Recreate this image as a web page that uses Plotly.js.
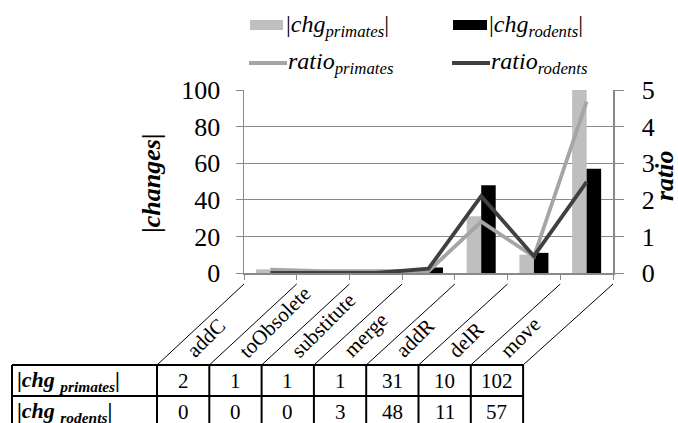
<!DOCTYPE html>
<html>
<head>
<meta charset="utf-8">
<script src="https://cdn.plot.ly/plotly-3.0.1.min.js"></script>
<style>html,body{margin:0;padding:0;background:#fff;}#chart{width:678px;height:423px;}</style>
</head>
<body>
<div id="chart"></div>
<script>
// ---- data ----
const categories = ['addC', 'toObsolete', 'substitute', 'merge', 'addR', 'delR', 'move'];
const chgPrimates = [2, 1, 1, 1, 31, 10, 102];
const chgRodents = [0, 0, 0, 3, 48, 11, 57];
const ratioPrimates = [0.09, 0.05, 0.05, 0.05, 1.40, 0.45, 4.68];
const ratioRodents = [0, 0, 0, 0.12, 2.10, 0.46, 2.49];
const leftTicks = [0, 20, 40, 60, 80, 100];
const rightTicks = [0, 1, 2, 3, 4, 5];
const rowLabels = ['|<i>chg</i> <sub><i>primates</i></sub>|', '|<i>chg</i> <sub><i>rodents</i></sub>|'];
const leftTitle = '<b>|<i>changes</i>|</b>';
const rightTitle = '<b><i>ratio</i></b>';

// ---- layout helpers (pixel -> paper) ----
const W = 678, H = 423;
const M = {l: 244, r: 65, t: 90, b: 150};
const PW = W - M.l - M.r, PH = H - M.t - M.b;
const fx = p => (p - M.l) / PW;
const fy = p => (H - M.b - p) / PH;

const FONT = 'Liberation Serif';
const AXC = '#898989';
const C_P_BAR = '#bfbfbf', C_R_BAR = '#000000';
const C_P_LINE = '#a5a5a5', C_R_LINE = '#404040';

const traces = [
  {type: 'bar', x: categories, y: chgPrimates, name: '|chg primates|', marker: {color: C_P_BAR}, yaxis: 'y', hoverinfo: 'skip'},
  {type: 'bar', x: categories, y: chgRodents, name: '|chg rodents|', marker: {color: C_R_BAR}, yaxis: 'y', hoverinfo: 'skip'},
  {type: 'scatter', mode: 'lines', x: categories, y: ratioPrimates, name: 'ratio primates', line: {color: C_P_LINE, width: 3.8}, yaxis: 'y2', hoverinfo: 'skip'},
  {type: 'scatter', mode: 'lines', x: categories, y: ratioRodents, name: 'ratio rodents', line: {color: C_R_LINE, width: 3.8}, yaxis: 'y2', hoverinfo: 'skip'}
];

const shapes = [];
const annotations = [];

// axis titles
const titleFont = {family: FONT, size: 26, color: '#000'};
annotations.push({xref: 'paper', yref: 'paper', x: fx(151), y: fy(183), xanchor: 'center', yanchor: 'middle', showarrow: false, textangle: -90, text: leftTitle, font: titleFont});
annotations.push({xref: 'paper', yref: 'paper', x: fx(664), y: fy(176), xanchor: 'center', yanchor: 'middle', showarrow: false, textangle: -90, text: rightTitle, font: titleFont});

// legend (drawn manually to match the reference)
shapes.push({type: 'rect', xref: 'paper', yref: 'paper', x0: fx(250), x1: fx(283), y0: fy(30), y1: fy(20), fillcolor: C_P_BAR, line: {width: 0}});
shapes.push({type: 'rect', xref: 'paper', yref: 'paper', x0: fx(453), x1: fx(487), y0: fy(30), y1: fy(20), fillcolor: C_R_BAR, line: {width: 0}});
shapes.push({type: 'line', xref: 'paper', yref: 'paper', x0: fx(249), x1: fx(287), y0: fy(63), y1: fy(63), line: {color: C_P_LINE, width: 3.8}});
shapes.push({type: 'line', xref: 'paper', yref: 'paper', x0: fx(452), x1: fx(490), y0: fy(63), y1: fy(63), line: {color: C_R_LINE, width: 3.8}});
const legFont = {family: FONT, size: 24, color: '#000'};
annotations.push({xref: 'paper', yref: 'paper', x: fx(284), y: fy(26), xanchor: 'left', yanchor: 'middle', showarrow: false, text: '|<i>chg</i><sub><i>primates</i></sub>|', font: legFont});
annotations.push({xref: 'paper', yref: 'paper', x: fx(487), y: fy(26), xanchor: 'left', yanchor: 'middle', showarrow: false, text: '|<i>chg</i><sub><i>rodents</i></sub>|', font: legFont});
annotations.push({xref: 'paper', yref: 'paper', x: fx(286), y: fy(63), xanchor: 'left', yanchor: 'middle', showarrow: false, text: '<i>ratio<sub>primates</sub></i>', font: legFont});
annotations.push({xref: 'paper', yref: 'paper', x: fx(489), y: fy(63), xanchor: 'left', yanchor: 'middle', showarrow: false, text: '<i>ratio<sub>rodents</sub></i>', font: legFont});

// floor lines + data table
const tblTop = 365, rowH = 31, tblLeft = 12, colStart = 157, colW = 52.3;
const catW = PW / categories.length;
for (let k = 0; k <= categories.length; k++) {
  shapes.push({type: 'line', xref: 'paper', yref: 'paper', x0: fx(colStart + k * colW), y0: fy(tblTop), x1: fx(M.l + k * catW), y1: fy(284), line: {color: '#000', width: 1}});
  shapes.push({type: 'line', xref: 'paper', yref: 'paper', x0: fx(colStart + k * colW), y0: fy(tblTop), x1: fx(colStart + k * colW), y1: fy(tblTop + 2 * rowH + 4), line: {color: '#000', width: 2}});
}
shapes.push({type: 'line', xref: 'paper', yref: 'paper', x0: fx(tblLeft), y0: fy(tblTop), x1: fx(tblLeft), y1: fy(tblTop + 2 * rowH + 4), line: {color: '#000', width: 2}});
for (let r = 0; r <= 2; r++) {
  shapes.push({type: 'line', xref: 'paper', yref: 'paper', x0: fx(tblLeft), y0: fy(tblTop + r * rowH), x1: fx(colStart + categories.length * colW), y1: fy(tblTop + r * rowH), line: {color: '#000', width: 2}});
}
const rows = [chgPrimates, chgRodents];
rows.forEach((vals, r) => {
  annotations.push({xref: 'paper', yref: 'paper', x: fx(tblLeft + 3), y: fy(tblTop + r * rowH + rowH / 2), xanchor: 'left', yanchor: 'middle', showarrow: false, text: '<b>' + rowLabels[r] + '</b>', font: {family: FONT, size: 22, color: '#000'}});
  vals.forEach((v, k) => {
    annotations.push({xref: 'paper', yref: 'paper', x: fx(colStart + (k + 0.5) * colW), y: fy(tblTop + r * rowH + rowH / 2), xanchor: 'center', yanchor: 'middle', showarrow: false, text: String(v), font: {family: FONT, size: 21, color: '#000'}});
  });
});
// slanted category labels
categories.forEach((c, k) => {
  annotations.push({xref: 'paper', yref: 'paper', x: fx(colStart + k * colW + 22), y: fy(365), xanchor: 'left', yanchor: 'bottom', showarrow: false, textangle: -45, text: c, font: {family: FONT, size: 21, color: '#000'}});
});

const layout = {
  width: W, height: H,
  margin: {l: M.l, r: M.r, t: M.t, b: M.b, pad: 0},
  paper_bgcolor: '#fff', plot_bgcolor: '#fff',
  showlegend: false,
  barmode: 'group', bargap: 0.45, bargroupgap: 0,
  font: {family: FONT, color: '#000'},
  xaxis: {type: 'category', range: [-0.5, categories.length - 0.5], showticklabels: false, ticks: 'outside', ticklen: 5, tickcolor: AXC, tickson: 'boundaries', showline: true, linecolor: AXC, linewidth: 1.5, showgrid: false, zeroline: false, fixedrange: true},
  yaxis: {range: [0, 100], tickvals: leftTicks, ticktext: leftTicks.map(String), ticks: 'outside', ticklen: 7, tickcolor: AXC, showline: true, linecolor: AXC, linewidth: 1.5, showgrid: true, gridcolor: AXC, gridwidth: 1.2, zeroline: false, tickfont: {family: FONT, size: 26, color: '#000'}, ticklabelstandoff: 10},
  yaxis2: {overlaying: 'y', side: 'right', range: [0, 5], tickvals: rightTicks, ticktext: rightTicks.map(String), ticks: 'outside', ticklen: 9, tickcolor: AXC, showline: true, linecolor: AXC, linewidth: 1.5, showgrid: false, zeroline: false, tickfont: {family: FONT, size: 26, color: '#000'}, ticklabelstandoff: 13},
  shapes: shapes,
  annotations: annotations
};

Plotly.newPlot('chart', traces, layout, {displayModeBar: false, staticPlot: true});
</script>
</body>
</html>
